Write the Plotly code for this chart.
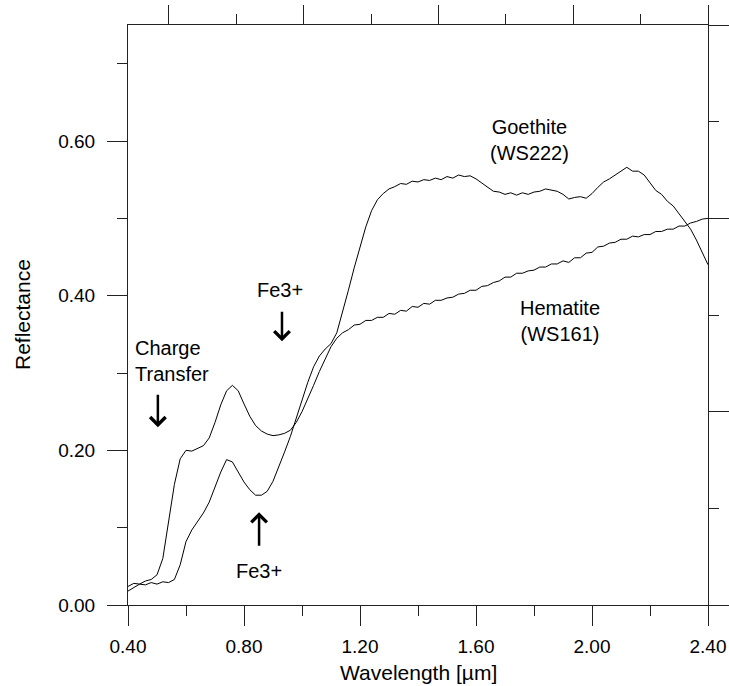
import plotly.graph_objects as go

# Wavelength grid (µm)
wavelength = [round(0.40 + 0.02 * i, 2) for i in range(101)]

# Hematite (WS161) reflectance
hematite = [
    0.024, 0.028, 0.027, 0.031, 0.033, 0.039, 0.060, 0.108, 0.156, 0.189,
    0.200, 0.199, 0.203, 0.206, 0.216, 0.236, 0.259, 0.277, 0.284, 0.277,
    0.260, 0.244, 0.232, 0.225, 0.221, 0.219, 0.220, 0.222, 0.226, 0.236,
    0.250, 0.266, 0.284, 0.302, 0.319, 0.334, 0.345, 0.352, 0.356, 0.362,
    0.363, 0.368, 0.368, 0.372, 0.372, 0.377, 0.376, 0.381, 0.380, 0.386,
    0.385, 0.390, 0.389, 0.394, 0.394, 0.397, 0.398, 0.402, 0.403, 0.407,
    0.407, 0.412, 0.413, 0.417, 0.419, 0.424, 0.424, 0.429, 0.429, 0.432,
    0.433, 0.437, 0.437, 0.441, 0.441, 0.445, 0.443, 0.449, 0.449, 0.455,
    0.456, 0.463, 0.464, 0.468, 0.469, 0.473, 0.473, 0.477, 0.476, 0.479,
    0.479, 0.483, 0.483, 0.486, 0.486, 0.490, 0.490, 0.494, 0.496, 0.499,
    0.500,
]

# Goethite (WS222) reflectance
goethite = [
    0.018, 0.023, 0.027, 0.026, 0.029, 0.027, 0.030, 0.029, 0.033, 0.052,
    0.082, 0.097, 0.108, 0.119, 0.133, 0.152, 0.172, 0.188, 0.185, 0.172,
    0.159, 0.149, 0.142, 0.142, 0.147, 0.160, 0.178, 0.198, 0.218, 0.242,
    0.265, 0.288, 0.308, 0.322, 0.331, 0.338, 0.352, 0.378, 0.407, 0.436,
    0.463, 0.489, 0.510, 0.524, 0.532, 0.538, 0.541, 0.545, 0.544, 0.548,
    0.547, 0.550, 0.549, 0.552, 0.550, 0.554, 0.552, 0.556, 0.554, 0.555,
    0.551, 0.546, 0.540, 0.535, 0.534, 0.531, 0.533, 0.530, 0.533, 0.531,
    0.534, 0.535, 0.538, 0.536, 0.535, 0.531, 0.525, 0.527, 0.528, 0.526,
    0.532, 0.540, 0.547, 0.551, 0.556, 0.560, 0.566, 0.561, 0.561, 0.556,
    0.546, 0.536, 0.531, 0.522, 0.516, 0.506, 0.497, 0.486, 0.472, 0.457,
    0.440,
]

x_ticks = [0.40, 0.80, 1.20, 1.60, 2.00, 2.40]
y_ticks = [0.00, 0.20, 0.40, 0.60]

FONT = "Arial, Liberation Sans, sans-serif"
AX = "#222222"

fig = go.Figure()
fig.add_trace(go.Scatter(x=wavelength, y=hematite, mode="lines",
                         line=dict(color="black", width=1), name="Hematite (WS161)"))
fig.add_trace(go.Scatter(x=wavelength, y=goethite, mode="lines",
                         line=dict(color="black", width=1), name="Goethite (WS222)"))
# invisible trace to activate the secondary (unlabelled) top/right axes
fig.add_trace(go.Scatter(x=[0], y=[0], xaxis="x2", yaxis="y2", mode="markers",
                         marker=dict(opacity=0), hoverinfo="skip", showlegend=False))

fig.update_layout(
    template="none",
    width=729, height=686,
    margin=dict(l=128, r=21, t=25, b=81, pad=0),
    paper_bgcolor="white", plot_bgcolor="white",
    showlegend=False,
    font=dict(family=FONT, size=19, color="black"),
    xaxis=dict(
        range=[0.40, 2.40], tickvals=x_ticks, ticktext=[f"{v:.2f}" for v in x_ticks],
        ticks="outside", ticklen=20, tickwidth=1, tickcolor=AX,
        minor=dict(ticks="outside", ticklen=10, tickwidth=1, tickcolor=AX,
                   tick0=0.4, dtick=0.2, showgrid=False),
        showline=True, linecolor=AX, linewidth=1, showgrid=False, zeroline=False,
        tickfont=dict(size=19), ticklabelstandoff=4, automargin=False,
    ),
    yaxis=dict(
        range=[0, 0.75], tickvals=y_ticks, ticktext=[f"{v:.2f}" for v in y_ticks],
        ticks="outside", ticklen=20, tickwidth=1, tickcolor=AX,
        minor=dict(ticks="outside", ticklen=10, tickwidth=1, tickcolor=AX,
                   tick0=0.0, dtick=0.1, showgrid=False),
        showline=True, linecolor=AX, linewidth=1, showgrid=False, zeroline=False,
        tickfont=dict(size=19), ticklabelstandoff=8, automargin=False,
    ),
    xaxis2=dict(
        overlaying="x", side="top", range=[-0.304, 4.0], anchor="y",
        tickvals=[0, 1, 2, 3, 4], showticklabels=False,
        ticks="outside", ticklen=19, tickwidth=1, tickcolor=AX,
        minor=dict(ticks="outside", ticklen=10, tickwidth=1, tickcolor=AX,
                   tick0=0.5, dtick=1, showgrid=False),
        showline=True, linecolor=AX, linewidth=1, showgrid=False, zeroline=False,
        automargin=False,
    ),
    yaxis2=dict(
        overlaying="y", side="right", range=[0, 3.0], anchor="x",
        tickvals=[0, 1, 2, 3], showticklabels=False,
        ticks="outside", ticklen=20, tickwidth=1, tickcolor=AX,
        minor=dict(ticks="outside", ticklen=10, tickwidth=1, tickcolor=AX,
                   tick0=0.5, dtick=1, showgrid=False),
        showline=True, linecolor=AX, linewidth=1, showgrid=False, zeroline=False,
        automargin=False,
    ),
)

ann_font = dict(family=FONT, size=20, color="black")
# axis titles
fig.add_annotation(xref="paper", yref="paper", x=0.5, y=0, yshift=-67,
                   text="Wavelength [µm]", showarrow=False, font=dict(family=FONT, size=21),
                   xanchor="center", yanchor="middle")
fig.add_annotation(xref="paper", yref="paper", x=0, y=0.5, xshift=-106,
                   text="Reflectance", showarrow=False, textangle=-90,
                   font=dict(family=FONT, size=21), xanchor="center", yanchor="middle")

# labels
fig.add_annotation(x=1.786, y=0.601, text="Goethite<br>(WS222)", showarrow=False,
                   font=ann_font, align="center")
fig.add_annotation(x=1.890, y=0.367, text="Hematite<br>(WS161)", showarrow=False,
                   font=ann_font, align="center")
fig.add_annotation(x=0.924, y=0.407, text="Fe3+", showarrow=False, font=ann_font)
fig.add_annotation(x=0.852, y=0.044, text="Fe3+", showarrow=False, font=ann_font)
fig.add_annotation(x=0.417, y=0.316, text="Charge<br>Transfer", showarrow=False,
                   font=ann_font, align="left", xanchor="left")

# arrows
arrow = dict(showarrow=True, text="", arrowhead=4, arrowsize=1.2, arrowwidth=2.5,
             arrowcolor="black", axref="pixel", ayref="pixel", standoff=0, startstandoff=0)
fig.add_annotation(x=0.931, y=0.341, ax=0, ay=-31, **arrow)
fig.add_annotation(x=0.503, y=0.230, ax=0, ay=-34, **arrow)
fig.add_annotation(x=0.852, y=0.120, ax=0, ay=35, **arrow)

fig.write_html("out.html")
